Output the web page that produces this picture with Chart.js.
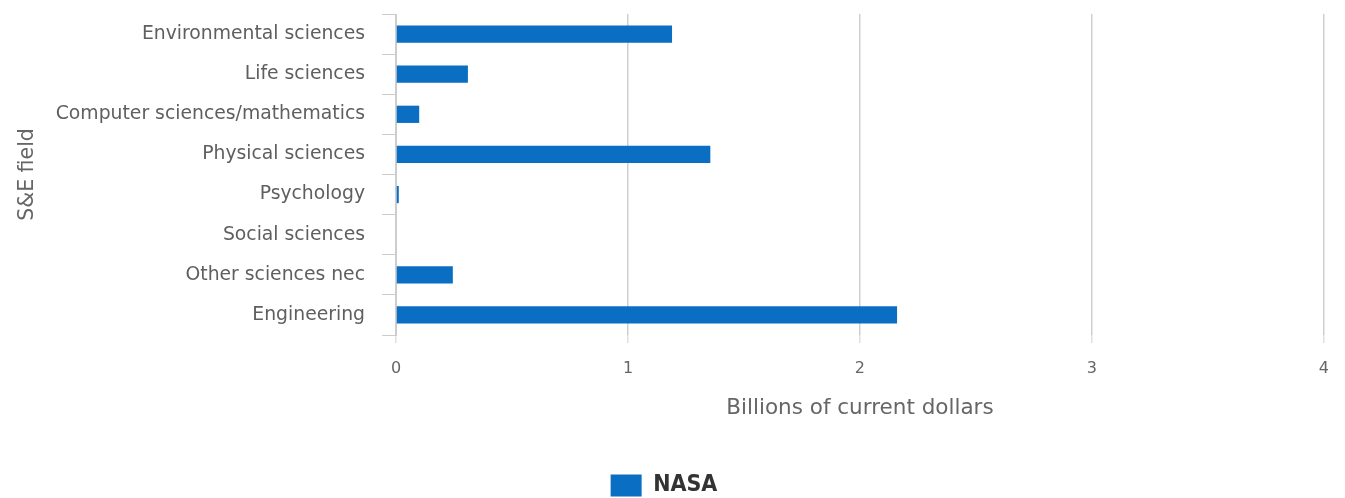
<!DOCTYPE html>
<html lang="en">
<head>
<meta charset="UTF-8">
<title>NASA obligations by S&amp;E field</title>
<script src="https://cdn.jsdelivr.net/npm/chart.js"></script>
<style>
  html, body { margin: 0; padding: 0; background: #ffffff; }
  .chart-box { width: 1345px; height: 498px; }
</style>
</head>
<body>
<div class="chart-box"><canvas id="fieldChart"></canvas></div>
<script>
// S&E fields, top to bottom
const fields = [
  'Environmental sciences',
  'Life sciences',
  'Computer sciences/mathematics',
  'Physical sciences',
  'Psychology',
  'Social sciences',
  'Other sciences nec',
  'Engineering'
];
// NASA obligations, billions of current dollars
const nasaBillions = [1.19, 0.31, 0.10, 1.355, 0.012, 0, 0.245, 2.16];
const xMin = 0;
const xMax = 4;
const xStep = 1;

const labelFont = "'DejaVu Sans', Verdana, sans-serif";
const legendFont = "'Liberation Sans Narrow', 'DejaVu Sans Condensed', 'Arial Narrow', sans-serif";

const ctx = document.getElementById('fieldChart').getContext('2d');
const fieldChart = new Chart(ctx, {
  type: 'bar',
  data: {
    labels: fields,
    datasets: [{
      label: 'NASA',
      data: nasaBillions,
      backgroundColor: '#0a6fc2',
      borderWidth: 0,
      categoryPercentage: 1,
      barPercentage: 0.43
    }]
  },
  options: {
    indexAxis: 'y',
    responsive: true,
    maintainAspectRatio: false,
    animation: false,
    layout: { padding: { top: 14, right: 17, bottom: -9, left: 0 } },
    scales: {
      x: {
        min: xMin,
        max: xMax,
        afterFit: (scale) => { scale.height = 135; },
        ticks: {
          stepSize: xStep,
          padding: 16,
          color: '#666666',
          font: { family: labelFont, size: 16 }
        },
        grid: { color: '#cfcfcf', lineWidth: 1.5, tickLength: 8, tickColor: '#e0e0e0' },
        border: { display: false },
        title: {
          display: true,
          text: 'Billions of current dollars',
          color: '#666666',
          font: { family: labelFont, size: 21.5 },
          padding: { top: 0, bottom: 49 }
        }
      },
      y: {
        // fixed axis width, and no extra room for the first/last label
        afterFit: (scale) => {
          scale.width = 396;
          scale.paddingTop = 0;
          scale.paddingBottom = 0;
        },
        ticks: {
          autoSkip: false,
          padding: 17,
          color: '#5f5f5f',
          font: { family: labelFont, size: 18.8 }
        },
        grid: { drawOnChartArea: false, color: '#cccccc', tickLength: 14 },
        border: { display: true, color: '#cccccc', width: 1 },
        title: {
          display: true,
          text: 'S&E field',
          color: '#666666',
          font: { family: labelFont, size: 20.5 },
          padding: { top: 15, bottom: 0 }
        }
      }
    },
    plugins: {
      legend: {
        position: 'bottom',
        labels: {
          boxWidth: 31,
          boxHeight: 22,
          padding: 4,
          color: '#333333',
          font: { family: legendFont, size: 23, weight: 'bold' }
        }
      },
      tooltip: { enabled: false }
    }
  }
});
</script>
</body>
</html>
